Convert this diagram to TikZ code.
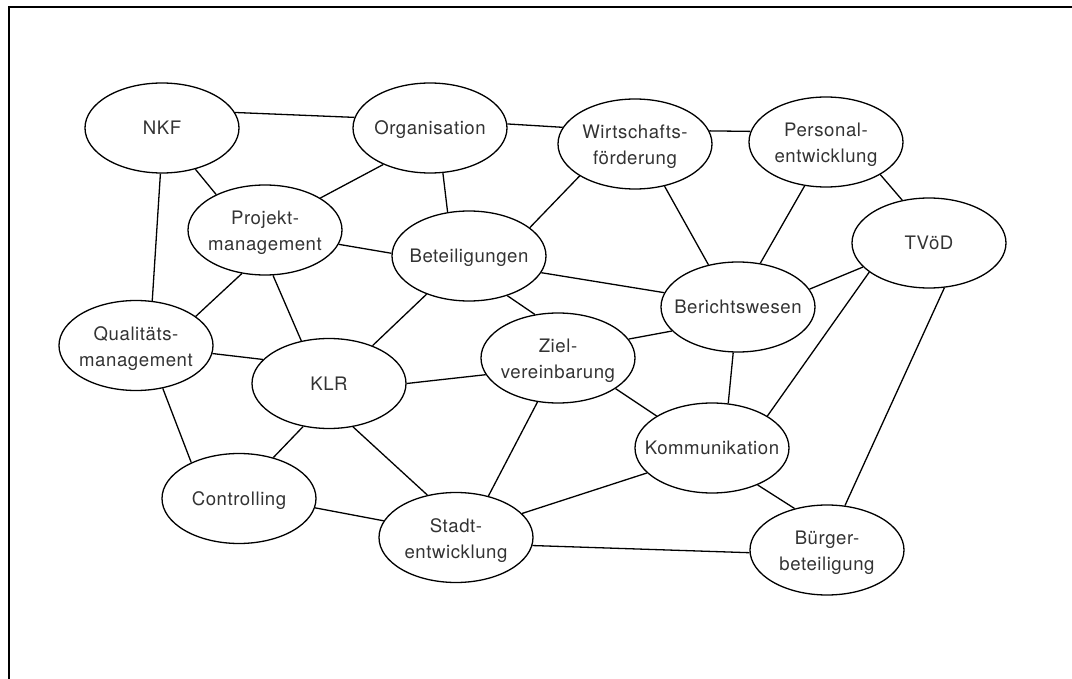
\documentclass[tikz,border=0pt]{standalone}
\usepackage{fontspec}
\setmainfont{TeX Gyre Heros}[LetterSpace=3]
\usetikzlibrary{shapes.geometric}
\definecolor{txtgray}{HTML}{333333}
\newcommand{\twol}[2]{\rule{0pt}{19.5pt}#1\\#2}
\begin{document}
\begin{tikzpicture}[x=1pt,y=-1pt,
  ell/.style={ellipse,draw=black,line width=1.3pt,minimum width=154pt,minimum height=90pt,
    inner xsep=-40pt,inner ysep=0pt,text=txtgray,align=center,
    font=\fontsize{18.6pt}{25.7pt}\selectfont},
  one/.style={ell,text height=13.4pt,text depth=0pt},
  link/.style={draw=black,line width=1.3pt},
  frame/.style={draw=black,line width=2pt}]
\useasboundingbox (0,0) rectangle (1072,679);
\draw[frame] (9,680) -- (9,7) -- (1073,7);
% nodes
\node[one] (nkf) at (162,128) {NKF};
\node[one] (org) at (430,128) {Organisation};
\node[ell] (wif) at (635,144) {\twol{Wirtschafts-}{förderung}};
\node[ell] (pe) at (826,142) {\twol{Personal-}{entwicklung}};
\node[one] (tvoed) at (929,243) {TVöD};
\node[ell] (pm) at (265,230) {\twol{Projekt-}{management}};
\node[one] (bet) at (469,256) {Beteiligungen};
\node[one] (ber) at (738,307) {Berichtswesen};
\node[ell] (qm) at (136,345.5) {\twol{Qualitäts-}{management}};
\node[one] (klr) at (329,383.5) {KLR};
\node[ell] (ziel) at (558,358) {\twol{Ziel-}{vereinbarung}};
\node[one] (kom) at (712,448) {Kommunikation};
\node[one] (ctrl) at (239,498.5) {Controlling};
\node[ell] (stadt) at (456,537.5) {\twol{Stadt-}{entwicklung}};
\node[ell] (bb) at (827,550) {\twol{Bürger-}{beteiligung}};
% connectors
\path[link] (nkf.12) -- (org.172);
\path[link] (nkf.-51) -- (pm.144);
\path[link] (nkf.-92) -- (qm.70);
\path[link] (org.3) -- (wif.167);
\path[link] (org.-142) -- (pm.30);
\path[link] (org.-74) -- (bet.116);
\path[link] (wif.10) -- (pe.172);
\path[link] (wif.-150) -- (bet.25);
\path[link] (wif.-55) -- (ber.125);
\path[link] (pe.-31) -- (tvoed.122);
\path[link] (pe.-116) -- (ber.63);
\path[link] (pm.-11) -- (bet.178);
\path[link] (pm.-118) -- (qm.26);
\path[link] (pm.-80) -- (klr.123);
\path[link] (bet.-13) -- (ber.169);
\path[link] (bet.-138) -- (klr.41);
\path[link] (bet.-46) -- (ziel.118);
\path[link] (tvoed.-160) -- (ber.14);
\path[link] (tvoed.-154) -- (kom.30);
\path[link] (tvoed.-71) -- (bb.68);
\path[link] (qm.-6) -- (klr.160);
\path[link] (qm.-58) -- (ctrl.143);
\path[link] (klr.0) -- (ziel.-167);
\path[link] (klr.-121) -- (ctrl.50);
\path[link] (klr.-61) -- (stadt.124);
\path[link] (ziel.15) -- (ber.-160);
\path[link] (ziel.-28) -- (kom.150);
\path[link] (ziel.-115) -- (stadt.52);
\path[link] (ber.-96) -- (kom.70);
\path[link] (kom.-159) -- (stadt.20);
\path[link] (kom.-39) -- (bb.128);
\path[link] (ctrl.-7) -- (stadt.167);
\path[link] (stadt.-6) -- (bb.-178);
\end{tikzpicture}
\end{document}
